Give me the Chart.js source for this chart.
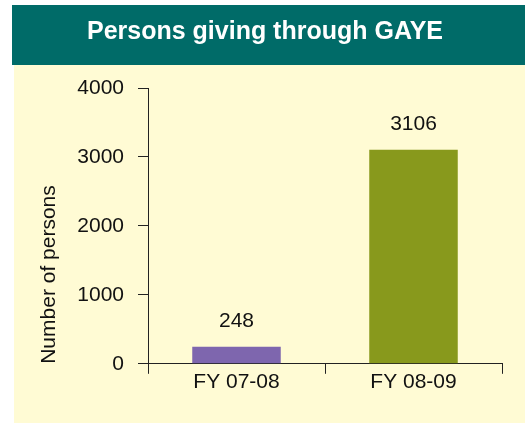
<!DOCTYPE html>
<html>
<head>
<meta charset="utf-8">
<title>Persons giving through GAYE</title>
<script src="https://cdn.jsdelivr.net/npm/chart.js@4/dist/chart.umd.min.js"></script>
<style>
    html, body { margin: 0; padding: 0; background: #ffffff; }
    #chart-wrap { width: 525px; height: 425px; }
</style>
</head>
<body>
<div id="chart-wrap"><canvas id="gaye-chart" width="525" height="425"></canvas></div>
<script>
// Chart data
const categories = ['FY 07-08', 'FY 08-09'];
const persons = [248, 3106];
const yTickValues = [0, 1000, 2000, 3000, 4000];

// Styling
const barColors = ['#7e66ae', '#88991c'];
const headerColor = '#006b68';
const panelColor = '#fffbd4';
const axisColor = '#222222';
const textColor = '#111111';
const fontFamily = '"Liberation Sans", Arial, sans-serif';

// Paints the white page, teal header band and pale yellow panel
const backgroundPlugin = {
    id: 'panelBackground',
    beforeDraw(chart) {
        const ctx = chart.ctx;
        ctx.save();
        ctx.fillStyle = '#ffffff';
        ctx.fillRect(0, 0, chart.width, chart.height);
        ctx.fillStyle = headerColor;
        ctx.fillRect(12, 5, chart.width - 12, 60);
        ctx.fillStyle = panelColor;
        ctx.fillRect(14, 65, chart.width - 14, 358);
        ctx.restore();
    }
};

// Writes the value above each bar
const valueLabelPlugin = {
    id: 'valueLabels',
    afterDatasetsDraw(chart) {
        const ctx = chart.ctx;
        const meta = chart.getDatasetMeta(0);
        ctx.save();
        ctx.font = '21px ' + fontFamily;
        ctx.fillStyle = textColor;
        ctx.textAlign = 'center';
        ctx.textBaseline = 'middle';
        meta.data.forEach((bar, i) => {
            ctx.fillText(String(persons[i]), bar.x, bar.y - 25);
        });
        ctx.restore();
    }
};

function axisGrid() {
    return {
        display: true,
        drawOnChartArea: false,
        drawTicks: true,
        tickLength: 10,
        color: axisColor
    };
}

function initGayeChart() {
    const ctx = document.getElementById('gaye-chart');
    if (!ctx) return;

    new Chart(ctx, {
        type: 'bar',
        data: {
            labels: categories,
            datasets: [{
                label: 'Number of persons',
                data: persons,
                backgroundColor: barColors,
                borderWidth: 0,
                barPercentage: 0.5,
                categoryPercentage: 1.0
            }]
        },
        options: {
            responsive: false,
            animation: false,
            layout: {
                padding: { left: 5, right: 0, top: 0, bottom: 34 }
            },
            plugins: {
                legend: { display: false },
                tooltip: { enabled: false },
                title: {
                    display: true,
                    text: 'Persons giving through GAYE',
                    color: '#ffffff',
                    font: { family: fontFamily, size: 25, weight: 'bold', lineHeight: 1.2 },
                    padding: { top: 17, bottom: 41 }
                }
            },
            scales: {
                x: {
                    border: { display: true, color: axisColor, width: 1 },
                    grid: axisGrid(),
                    ticks: {
                        color: textColor,
                        font: { family: fontFamily, size: 21, lineHeight: 1.2 },
                        padding: -4
                    }
                },
                y: {
                    min: 0,
                    max: 4000,
                    afterBuildTicks(scale) {
                        scale.ticks = yTickValues.map(v => ({ value: v }));
                    },
                    afterFit(scale) {
                        scale.width = 143;
                    },
                    border: { display: true, color: axisColor, width: 1 },
                    grid: axisGrid(),
                    ticks: {
                        color: textColor,
                        font: { family: fontFamily, size: 21 },
                        padding: 14,
                        callback: value => String(value)
                    },
                    title: {
                        display: true,
                        text: 'Number of persons',
                        align: 'start',
                        color: textColor,
                        font: { family: fontFamily, size: 21, lineHeight: 1.2 },
                        padding: { top: 32, bottom: 0 }
                    }
                },
                // empty right-hand spacer so the plot ends where the reference does
                spacer: {
                    type: 'linear',
                    position: 'right',
                    display: true,
                    grid: { display: false },
                    border: { display: false },
                    ticks: { display: false },
                    afterFit(scale) {
                        scale.width = 23;
                    }
                }
            }
        },
        plugins: [backgroundPlugin, valueLabelPlugin]
    });
}

document.addEventListener('DOMContentLoaded', function() {
    initGayeChart();
});
</script>
</body>
</html>
